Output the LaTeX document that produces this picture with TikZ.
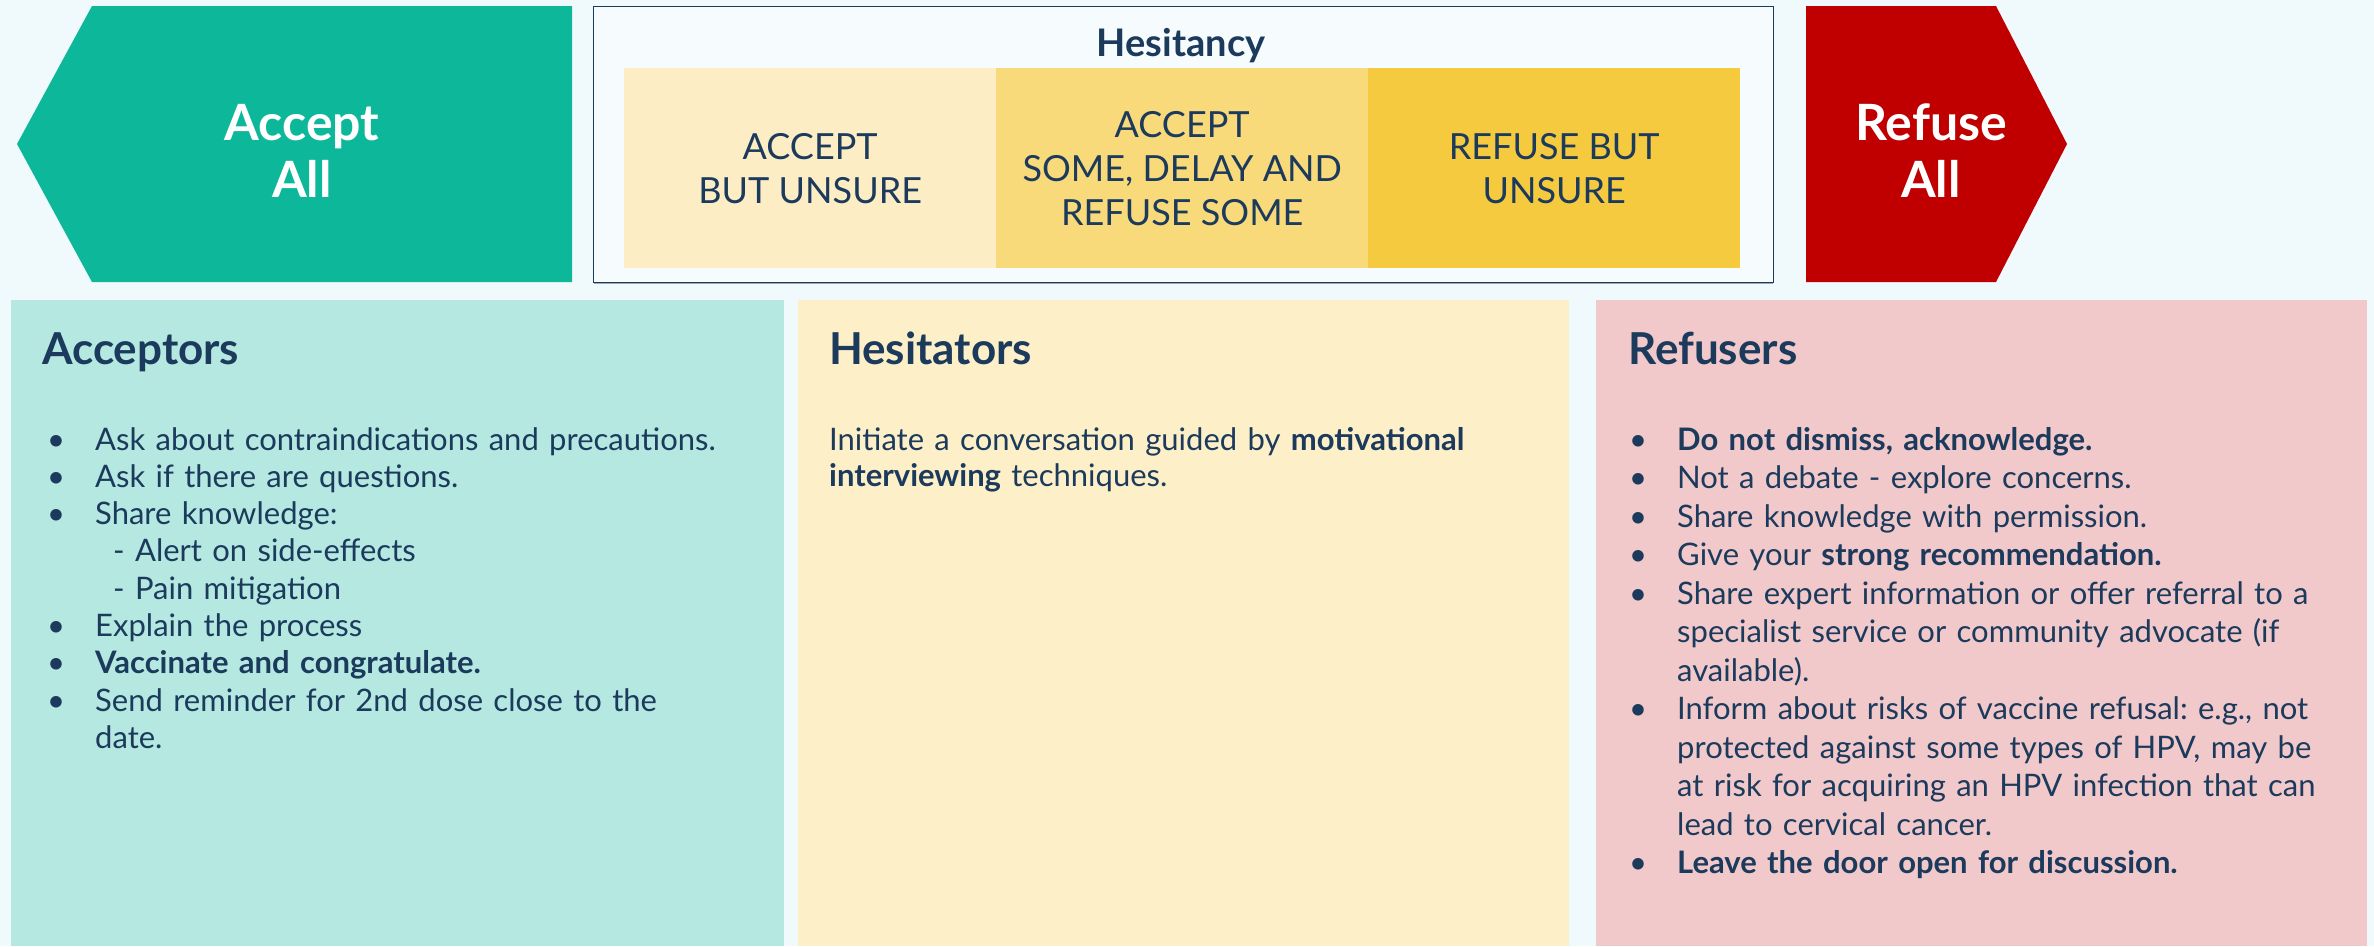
\documentclass[tikz,border=0pt]{standalone}
\usepackage{fontspec}
\setmainfont{Lato}
\usepackage{tikz}

\definecolor{pagebg}{RGB}{240,249,252}
\definecolor{navy}{RGB}{27,58,92}
\definecolor{acceptgreen}{RGB}{13,184,154}
\definecolor{refusered}{RGB}{192,0,0}
\definecolor{barlight}{RGB}{252,237,197}
\definecolor{barmid}{RGB}{249,218,122}
\definecolor{bardark}{RGB}{245,202,63}
\definecolor{tealpanel}{RGB}{180,232,224}
\definecolor{yellowpanel}{RGB}{253,239,200}
\definecolor{pinkpanel}{RGB}{242,201,202}

% one bullet line with hanging indent
\newcommand{\pitem}[1]{\hangindent=48pt\hangafter=1\noindent\makebox[48pt][l]{\textbullet}#1\par}

\begin{document}
\frenchspacing
\begin{tikzpicture}[x=1pt,y=-1pt,
	bigword/.style={text=white, font=\bfseries\fontsize{50}{57}\selectfont, align=center},
	bar/.style={minimum width=372pt, minimum height=200pt, inner sep=0pt, anchor=north west, text=navy, font=\fontsize{36}{44}\selectfont, align=center},
	heading/.style={anchor=base west, inner sep=0pt, text=navy, font=\bfseries\fontsize{44}{50}\selectfont},
	body/.style={anchor=north west, inner sep=0pt, text=navy, align=left}]

	\useasboundingbox (0,0) rectangle (2374,946);
	\fill[pagebg] (0,0) rectangle (2374,946);

	% top row
	\fill[acceptgreen] (17,144) -- (92,6) -- (572,6) -- (572,282) -- (92,282) -- cycle;
	\node[bigword] (acceptall) at (302,151) {Accept\\All};

	\draw[gray!70,line width=2pt] (594,283) -- (1773,283);
	\draw[navy,fill=pagebg!60!white,line width=1pt] (593,6) rectangle (1773,282);
	\node[anchor=base, inner sep=0pt, text=navy, font=\bfseries\fontsize{38}{44}\selectfont] (hesitancy) at (1181,56) {Hesitancy};

	\foreach \x/\col/\txt [count=\i] in {624/barlight/{ACCEPT\\BUT UNSURE}, 996/barmid/{ACCEPT\\SOME, DELAY AND\\REFUSE SOME}, 1368/bardark/{REFUSE BUT\\UNSURE}}
		\node[bar, fill=\col] (bar\i) at (\x,68) {\txt};

	\fill[refusered] (1806,6) -- (1996,6) -- (2067,144) -- (1996,282) -- (1806,282) -- cycle;
	\node[bigword] (refuseall) at (1931,151) {Refuse\\All};

	% bottom row
	\fill[tealpanel] (11,300) rectangle (784,946);
	\fill[yellowpanel] (798,300) rectangle (1569,946);
	\fill[pinkpanel] (1596,300) rectangle (2367,946);

	\node[heading] (acceptors) at (42,364) {Acceptors};
	\node[heading] (hesitators) at (829,364) {Hesitators};
	\node[heading] (refusers) at (1628,364) {Refusers};

	\node[body, text width=720pt, font=\fontsize{31}{37.3}\selectfont] (acceptlist) at (47,427) {%
		\pitem{Ask about contraindications and precautions.}
		\pitem{Ask if there are questions.}
		\pitem{Share knowledge:\newline\hspace*{18pt}- Alert on side-effects\newline\hspace*{18pt}- Pain mitigation}
		\pitem{Explain the process}
		\pitem{\textbf{Vaccinate and congratulate.}}
		\pitem{Send reminder for 2nd dose close to the\newline date.}};

	\node[body, text width=720pt, font=\fontsize{31}{36}\selectfont] (hesitext) at (829,427) {%
		Initiate a conversation guided by \textbf{motivational}\\\textbf{interviewing} techniques.};

	\node[body, text width=735pt, font=\fontsize{31}{38.5}\selectfont] (refuselist) at (1629,427) {%
		\pitem{\textbf{Do not dismiss, acknowledge.}}
		\pitem{Not a debate - explore concerns.}
		\pitem{Share knowledge with permission.}
		\pitem{Give your \textbf{strong recommendation.}}
		\pitem{Share expert information or offer referral to a\newline specialist service or community advocate (if\newline available).}
		\pitem{Inform about risks of vaccine refusal: e.g., not\newline protected against some types of HPV, may be\newline at risk for acquiring an HPV infection that can\newline lead to cervical cancer.}
		\pitem{\textbf{Leave the door open for discussion.}}};

\end{tikzpicture}
\end{document}
